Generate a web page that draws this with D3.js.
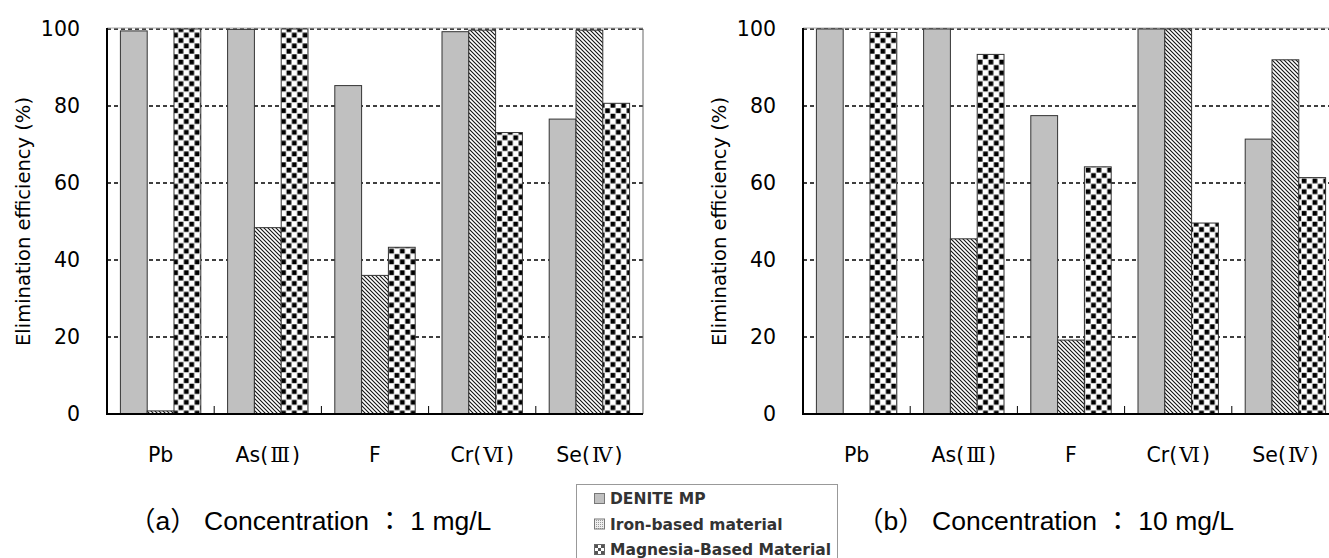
<!DOCTYPE html>
<html>
<head>
<meta charset="utf-8">
<script src="https://cdn.jsdelivr.net/npm/d3@7"></script>
<style>
  html, body { margin: 0; padding: 0; background: #fff; }
  svg { display: block; }
</style>
</head>
<body>
<svg id="chart" width="1329" height="558"></svg>
<script>
// ---- data ----
const categories = ["Pb", "As(\u2162)", "F", "Cr(\u2165)", "Se(\u2163)"];
const seriesNames = ["DENITE MP", "Iron-based material", "Magnesia-Based Material"];
const yTicks = [0, 20, 40, 60, 80, 100];

// (a) 1 mg/L
const denite1 = [99.5, 99.9, 85.3, 99.3, 76.6];
const iron1   = [0.8, 48.4, 36.0, 99.7, 99.7];
const magn1   = [100, 100, 43.3, 73.1, 80.7];
// (b) 10 mg/L
const denite10 = [100, 100, 77.5, 100, 71.4];
const iron10   = [0, 45.5, 19.2, 100, 92.0];
const magn10   = [99.1, 93.4, 64.2, 49.6, 61.4];

const panels = [
  { title: "\uFF08a\uFF09 Concentration \uFF1A 1 mg/L", series: [denite1, iron1, magn1], x0: 107, titleX: 129 },
  { title: "\uFF08b\uFF09 Concentration \uFF1A 10 mg/L", series: [denite10, iron10, magn10], x0: 803, titleX: 857 }
];

const svg = d3.select("#chart");
const defs = svg.append("defs");
const FONT = "DejaVu Sans, Verdana, sans-serif";
const NUM = "'DejaVu Serif', 'Noto Sans CJK JP', serif";

// hatch pattern (iron)
const hatch = defs.append("pattern").attr("id", "hatch")
  .attr("patternUnits", "userSpaceOnUse").attr("width", 4).attr("height", 4);
hatch.append("rect").attr("width", 4).attr("height", 4).attr("fill", "#fff");
hatch.append("path").attr("d", "M-1,-1 L5,5 M-1,3 L1,5 M3,-1 L5,1")
  .attr("stroke", "#111").attr("stroke-width", 1.1);

// checker pattern (magnesia)
const cs = 5.4;
const checker = defs.append("pattern").attr("id", "checker")
  .attr("patternUnits", "userSpaceOnUse").attr("width", cs * 2).attr("height", cs * 2);
checker.append("rect").attr("width", cs * 2).attr("height", cs * 2).attr("fill", "#fff");
checker.append("rect").attr("x", 0.3).attr("y", 0.3).attr("width", cs - 0.6).attr("height", cs - 0.6).attr("fill", "#000");
checker.append("rect").attr("x", cs + 0.3).attr("y", cs + 0.3).attr("width", cs - 0.6).attr("height", cs - 0.6).attr("fill", "#000");

// small legend pattern
const dots = defs.append("pattern").attr("id", "dots")
  .attr("patternUnits", "userSpaceOnUse").attr("width", 2).attr("height", 2);
dots.append("rect").attr("width", 2).attr("height", 2).attr("fill", "#eee");
dots.append("rect").attr("width", 1).attr("height", 1).attr("fill", "#999");

const fills = ["#c0c0c0", "url(#hatch)", "url(#checker)"];

const yTop = 29, yBot = 414, plotW = 536;
const y = d3.scaleLinear().domain([0, 100]).range([yBot, yTop]);

function setLabel(sel) {
  sel.each(function(d) {
    const t = d3.select(this);
    t.text(null);
    const m = d.match(/^(.*\()(.)(\))$/);
    if (m) {
      t.append("tspan").text(m[1]);
      t.append("tspan").attr("font-family", NUM).attr("dx", 2).text(m[2]);
      t.append("tspan").attr("dx", 2).text(m[3]);
    } else {
      t.text(d);
    }
  });
}

panels.forEach(p => {
  const g = svg.append("g");
  const x = d3.scaleBand().domain(categories).range([p.x0, p.x0 + plotW]).padding(0);
  const bw = x.bandwidth();
  const xs = d3.scaleBand().domain(seriesNames).range([bw * 0.125, bw * 0.875]).padding(0);

  // grid lines
  g.selectAll(".grid").data(yTicks.filter(t => t > 0)).join("line")
    .attr("x1", p.x0).attr("x2", p.x0 + plotW)
    .attr("y1", d => y(d)).attr("y2", d => y(d))
    .attr("stroke", "#000").attr("stroke-width", 1.3)
    .attr("stroke-dasharray", "4,3");

  // frame top & right
  g.append("line").attr("x1", p.x0).attr("x2", p.x0 + plotW)
    .attr("y1", yTop - 1).attr("y2", yTop - 1).attr("stroke", "#aaa").attr("stroke-width", 1);
  g.append("line").attr("x1", p.x0 + plotW).attr("x2", p.x0 + plotW)
    .attr("y1", yTop).attr("y2", yBot).attr("stroke", "#666").attr("stroke-width", 1);

  // bars
  p.series.forEach((vals, si) => {
    g.selectAll(".bar" + si).data(categories.map((c, i) => ({ c, v: vals[i] })).filter(d => d.v > 0))
      .join("rect")
      .attr("x", d => x(d.c) + xs(seriesNames[si]))
      .attr("width", xs.bandwidth())
      .attr("y", d => y(d.v))
      .attr("height", d => y(0) - y(d.v))
      .attr("fill", fills[si])
      .attr("stroke", "#333").attr("stroke-width", 1);
  });

  // x axis
  const xAxis = g.append("g").attr("transform", `translate(0,${yBot})`)
    .call(d3.axisBottom(x).tickSize(0).tickPadding(0));
  xAxis.select(".domain").remove();
  xAxis.selectAll("text").attr("y", 48).attr("dy", 0)
    .attr("font-family", FONT).attr("font-size", 20.5).attr("fill", "#000")
    .call(setLabel);
  g.append("line").attr("x1", p.x0).attr("x2", p.x0 + plotW)
    .attr("y1", yBot).attr("y2", yBot).attr("stroke", "#000").attr("stroke-width", 2);
  g.selectAll(".xt").data(categories.slice(1)).join("line")
    .attr("x1", d => x(d)).attr("x2", d => x(d))
    .attr("y1", yBot).attr("y2", yBot - 8)
    .attr("stroke", "#000").attr("stroke-width", 1);

  // y axis
  const yAxis = g.append("g").attr("transform", `translate(${p.x0},0)`)
    .call(d3.axisLeft(y).tickValues(yTicks).tickSize(0).tickPadding(27));
  yAxis.select(".domain").remove();
  yAxis.selectAll("text").attr("font-family", FONT)
    .attr("font-size", 20.5).attr("fill", "#000");
  g.append("line").attr("x1", p.x0).attr("x2", p.x0)
    .attr("y1", yTop - 1).attr("y2", yBot + 1).attr("stroke", "#000").attr("stroke-width", 2);

  // y title
  g.append("text")
    .attr("transform", `translate(${p.x0 - 77},${(yTop + yBot) / 2}) rotate(-90)`)
    .attr("text-anchor", "middle")
    .attr("font-family", FONT).attr("font-size", 19.5)
    .text("Elimination efficiency (%)");

  // subtitle
  g.append("text").attr("x", p.titleX).attr("y", 530)
    .attr("font-family", "Liberation Sans, Arial, 'Noto Sans CJK JP', sans-serif")
    .attr("font-size", 26.5).attr("fill", "#000")
    .text(p.title);
});

// legend
const lg = svg.append("g");
lg.append("rect").attr("x", 576.5).attr("y", 484.5).attr("width", 261).attr("height", 90)
  .attr("fill", "#fff").attr("stroke", "#999").attr("stroke-width", 1);
seriesNames.forEach((n, i) => {
  const yy = 504 + i * 25.5;
  const sx = 594.5, sy = yy - 10.5;
  const sw = lg.append("g");
  if (i === 0) {
    sw.append("rect").attr("x", sx).attr("y", sy).attr("width", 10).attr("height", 10)
      .attr("fill", "#c0c0c0").attr("stroke", "#777");
  } else if (i === 1) {
    sw.append("rect").attr("x", sx).attr("y", sy).attr("width", 10).attr("height", 10)
      .attr("fill", "url(#dots)").attr("stroke", "#777");
  } else {
    sw.append("rect").attr("x", sx).attr("y", sy).attr("width", 10).attr("height", 10)
      .attr("fill", "#fff").attr("stroke", "#666");
    [[0,0],[2,2],[0,2],[2,0],[1,1]].forEach(([a,b]) => {
      sw.append("rect").attr("x", sx + 0.5 + a * 3).attr("y", sy + 0.5 + b * 3)
        .attr("width", 3).attr("height", 3).attr("fill", "#555");
    });
  }
  lg.append("text").attr("x", 610).attr("y", yy)
    .attr("font-family", FONT).attr("font-weight", "bold")
    .attr("font-size", 15.5).attr("fill", "#333").text(n);
});
</script>
</body>
</html>
